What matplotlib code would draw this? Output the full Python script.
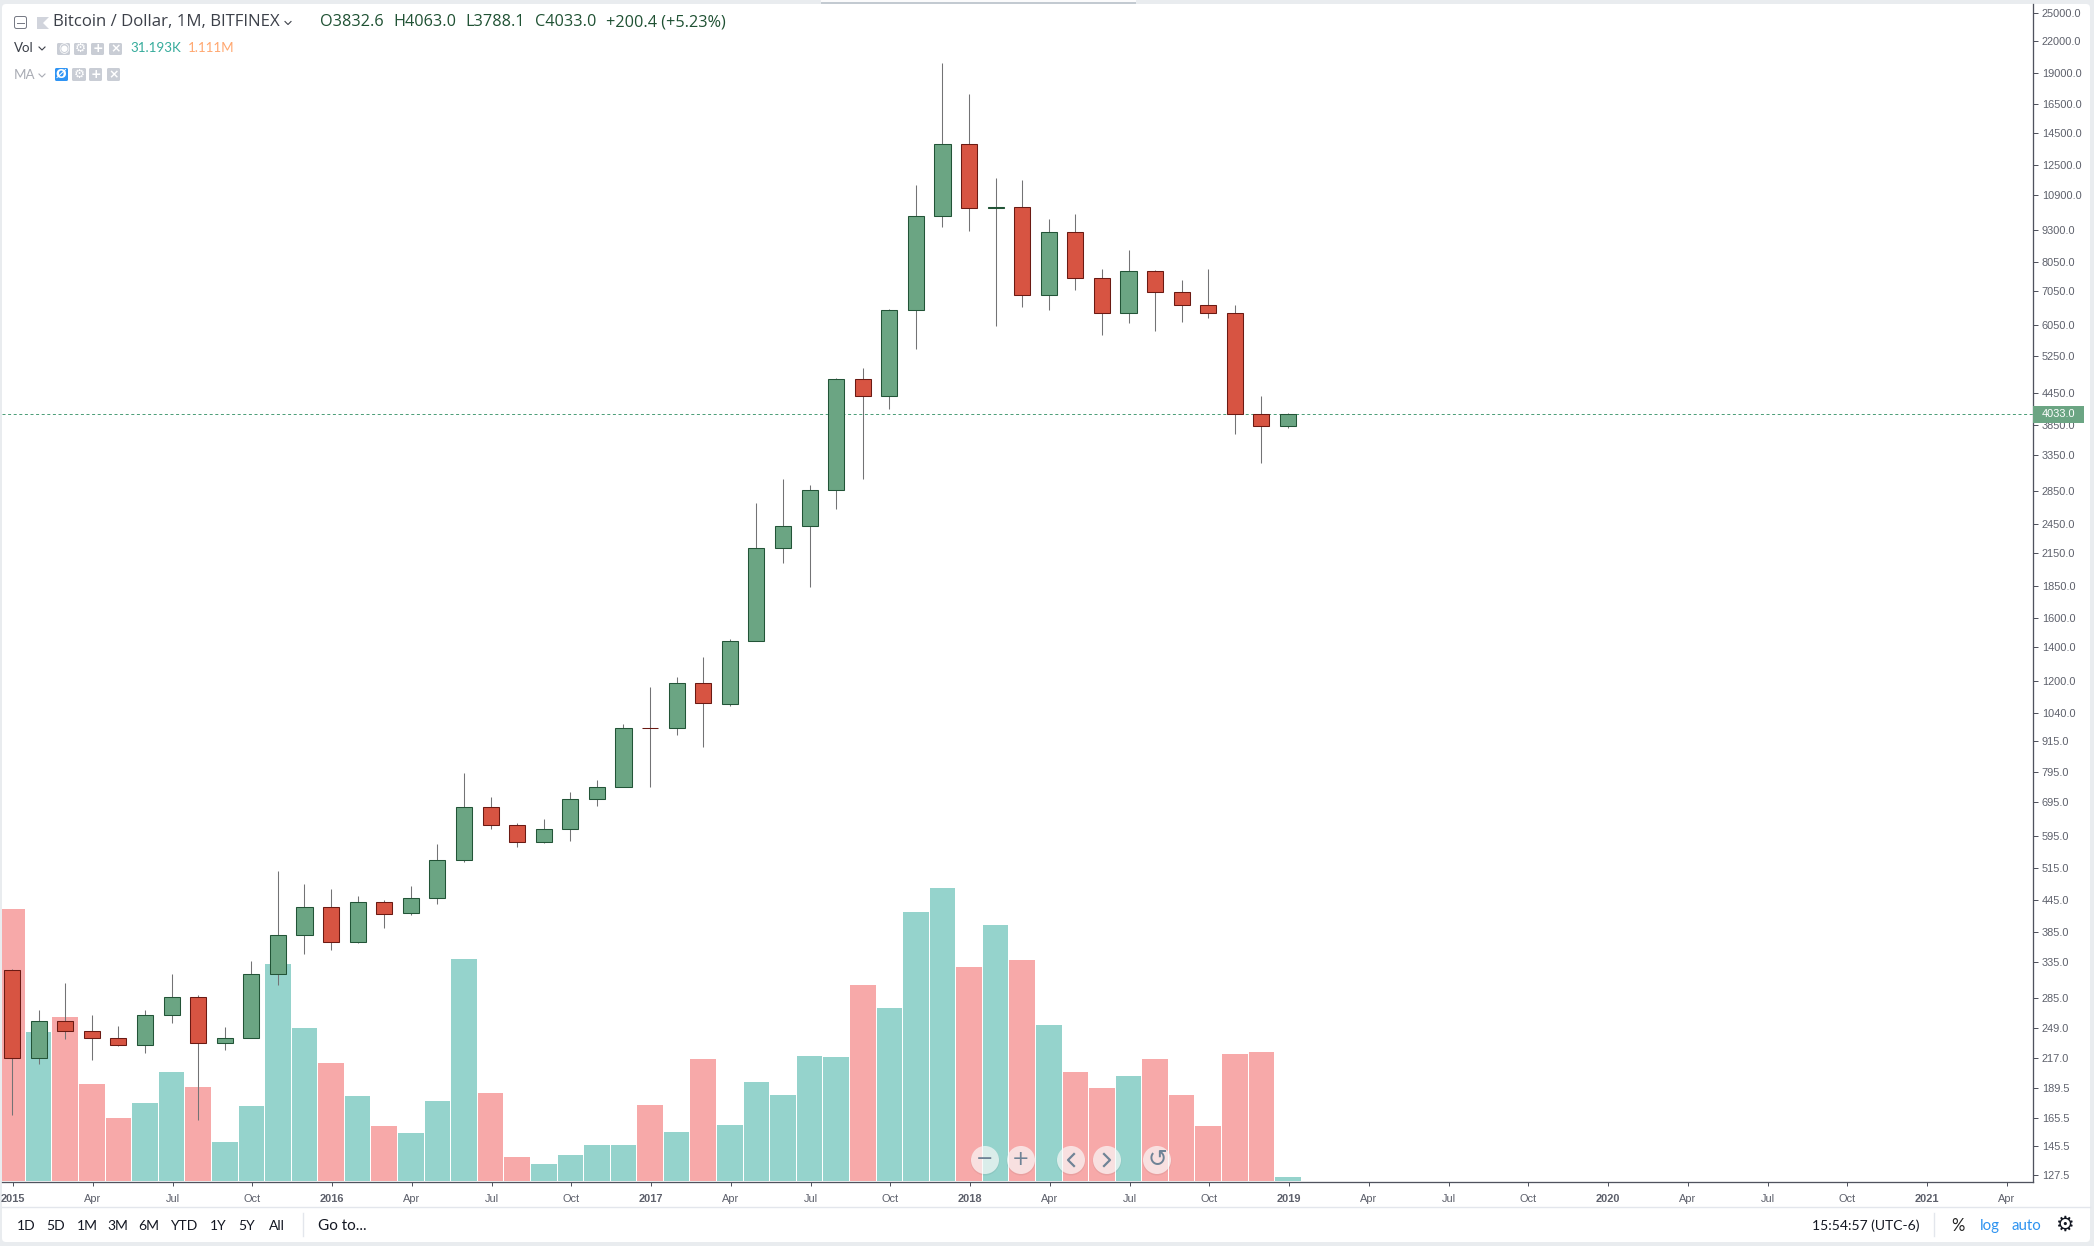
import matplotlib
matplotlib.use("Agg")
import matplotlib.pyplot as plt
from matplotlib.patches import Rectangle, Circle, FancyBboxPatch

opens = [323.5, 216.6, 256.6, 245, 237.3, 229.8, 263.7, 286.2, 232.2, 237.3, 317.7, 379.3,
         430.7, 367.4, 440.6, 419.1, 447.8, 532, 678, 624.5, 577.5, 612.6, 702, 742.4,
         970.6, 970.6, 1190.7, 1080.7, 1441, 2195, 2427, 2862, 4737, 4378, 6480, 9930,
         13770, 10297, 10343, 6924, 9233, 7492, 6392, 7736, 7031, 6628, 6392, 4033, 3832.6]
highs = [325.5, 270, 305.5, 264, 251, 270, 318.2, 289.3, 250.1, 337.5, 507.9, 478.8,
         468.1, 453.5, 445.3, 474.5, 574, 792.5, 710.5, 631.5, 643, 726.9, 767.7, 990,
         1170.9, 1225.4, 1341.8, 1456, 2701, 3012, 2931, 4765, 4987, 6500, 11448, 19920,
         17305, 11818, 11710, 9810, 10034, 7818, 8520, 7782, 7437, 7818, 6637, 4391, 4063]
lows = [167.7, 211.4, 236.9, 215.3, 228.8, 221.6, 253.9, 163.4, 225.4, 237.3, 302.7, 348.4,
        354.8, 365.2, 392.1, 414.7, 435.7, 527.3, 614.5, 566.2, 574.8, 580, 680, 742,
        742, 941.6, 891.6, 1074.2, 1441, 2057, 1839, 2620, 3003, 4139, 5420, 9430,
        9263, 6015, 6558, 6470, 7084, 5775, 6098, 5880, 6125, 6238, 3682, 3230, 3788.1]
closes = [216.6, 256.6, 244.9, 237, 229.8, 263.7, 286.2, 232.2, 237.3, 317.7, 379.3, 430.7,
          367.4, 440.6, 417.2, 448.7, 532.9, 678, 623.8, 577.5, 613.5, 703, 742.4, 970.6,
          969.6, 1190.7, 1087.4, 1441, 2198, 2430, 2862, 4737, 4378, 6479, 9930, 13770,
          10297, 10335, 6924, 9233, 7492, 6392, 7736, 7031, 6628, 6392, 4033, 3832.6, 4033]
volumes_k = [2122, 1162, 1279, 757, 491, 608, 850, 733, 304, 585, 1693, 1193,
             920, 663, 429, 374, 624, 1732, 686, 187, 133, 203, 281, 281,
             593, 382, 952, 437, 772, 671, 975, 967, 1529, 1349, 2098, 2285,
             1669, 1997, 1724, 1217, 850, 725, 819, 952, 671, 429, 991, 1006, 31]
price_ticks = [25000, 22000, 19000, 16500, 14500, 12500, 10900, 9300, 8050, 7050, 6050, 5250,
               4450, 3850, 3350, 2850, 2450, 2150, 1850, 1600, 1400, 1200, 1040, 915, 795,
               695, 595, 515, 445, 385, 335, 285, 249, 217, 189.5, 165.5, 145.5, 127.5]
month_ticks = [0, 3, 6, 9, 12, 15, 18, 21, 24, 27, 30, 33, 36, 39, 42, 45, 48, 51, 54, 57,
               60, 63, 66, 69, 72, 75]
month_labels = ["2015", "Apr", "Jul", "Oct", "2016", "Apr", "Jul", "Oct", "2017", "Apr", "Jul", "Oct",
                "2018", "Apr", "Jul", "Oct", "2019", "Apr", "Jul", "Oct", "2020", "Apr", "Jul", "Oct",
                "2021", "Apr"]
last_price = 4033.0

W, H = 2094, 1246
UP, DOWN = "#6ba583", "#d75442"
UP_EDGE, DOWN_EDGE = "#225437", "#6b1a13"
UP_VOL, DOWN_VOL = "#95d3cc", "#f7a9a9"
WICK = "#737375"
AXIS = "#50535e"
LABEL = "#5d606b"
px = 0.72
SANS = "Liberation Sans"
UI = "Lato"
HEAD = "Open Sans"

fig = plt.figure(figsize=(W / 100, H / 100), dpi=100, facecolor="#e9ecef")

# backdrop
bg = fig.add_axes([0, 0, 1, 1], zorder=-5)
bg.set_xlim(0, W); bg.set_ylim(H, 0); bg.axis("off")
bg.add_patch(FancyBboxPatch((5, 7), 2082, 1232, boxstyle="round,pad=3,rounding_size=4", fc="white", ec="none"))
bg.add_patch(Rectangle((821, 1.6), 315, 2, fc="#c3cad1", ec="none"))
bg.add_patch(Rectangle((821, 0), 315, 1.6, fc="#fbfbfc", ec="none"))
bg.plot([2, 2090], [1207, 1207], color="#e3e6ec", lw=1.4 * px)
bg.plot([303, 303], [1213, 1236], color="#e3e6ec", lw=1.4 * px)
bg.plot([1934, 1934], [1213, 1236], color="#e3e6ec", lw=1.4 * px)

# plot pane
L, R, T, B = 2, 2033, 4, 1182
rect = [L / W, 1 - B / H, (R - L) / W, (B - T) / H]
ax = fig.add_axes(rect, zorder=2)
ax.patch.set_visible(False)
vol = fig.add_axes(rect, zorder=1, sharex=ax)
vol.patch.set_visible(False)

idx = list(range(len(closes)))
up = [c >= o for o, c in zip(opens, closes)]

vol.bar(idx, volumes_k, width=0.962, color=[UP_VOL if u else DOWN_VOL for u in up], linewidth=0)
vol.set_ylim(-7.8, 9180)
vol.axis("off")

ax.set_yscale("log")
ax.set_xlim(-0.38, 76.026)
ax.set_ylim(123.5, 26000)

ax.plot([-0.38, 76.026], [last_price, last_price], color="#4f9f7a", lw=1.0 * px,
        linestyle=(0, (3, 2.6)), zorder=1)
ax.vlines(idx, lows, highs, color=WICK, lw=1.05 * px, zorder=2)
ax.bar(idx, [abs(c - o) for o, c in zip(opens, closes)], bottom=[min(o, c) for o, c in zip(opens, closes)],
       width=0.605, color=[UP if u else DOWN for u in up],
       edgecolor=[UP_EDGE if u else DOWN_EDGE for u in up], linewidth=1.05 * px, zorder=3)

for s in ("top", "left"):
    ax.spines[s].set_visible(False)
for s in ("bottom", "right"):
    ax.spines[s].set_color(AXIS)
    ax.spines[s].set_linewidth(1.3 * px)
ax.yaxis.tick_right()
ax.set_yticks(price_ticks)
ax.set_yticklabels([f"{v:.1f}" for v in price_ticks], fontsize=7.9, family=SANS, color=LABEL)
ax.minorticks_off()
ax.tick_params(axis="y", length=4.7 * px, width=1.0 * px, color=AXIS, pad=3.0)
ax.set_xticks([m + 0.04 for m in month_ticks])
ax.set_xticklabels(month_labels, fontsize=7.9, family=SANS, color=LABEL)
for lab in ax.get_xticklabels():
    if lab.get_text().isdigit():
        lab.set_fontweight("bold")
ax.tick_params(axis="x", length=4 * px, width=1.0 * px, color=AXIS, pad=5.5)

# overlay in pixel coordinates
ov = fig.add_axes([0, 0, 1, 1], zorder=10)
ov.patch.set_visible(False)
ov.set_xlim(0, W); ov.set_ylim(H, 0); ov.axis("off")

def t(x, y, s, size=10.0, color="#131722", ha="left", family=UI, **kw):
    ov.text(x, y, s, fontsize=size, color=color, ha=ha, va="center", family=family, **kw)

def square(x0, x1, y0, y1, fc="#c9cdd5"):
    ov.add_patch(FancyBboxPatch((x0 + 1, y0 + 1), x1 - x0 - 2, y1 - y0 - 2,
                                boxstyle="round,pad=1,rounding_size=1.5", fc=fc, ec="none"))

# last price label
y_last = ov.transData.inverted().transform(ax.transData.transform((0, last_price)))[1]
ov.add_patch(Rectangle((2033, y_last - 8.3), 51, 16.6, fc=UP, ec="none"))
t(2042, y_last, f"{last_price:.1f}", size=7.9, color="white", family=SANS)

# header
ov.add_patch(FancyBboxPatch((15, 17), 11, 11, boxstyle="round,pad=0.5,rounding_size=2", fc="white", ec="#787b86", lw=1.0 * px))
ov.plot([17, 24], [22.5, 22.5], color="#787b86", lw=1.0 * px)
ov.fill([37, 49, 43, 49, 37], [17, 17, 23, 29, 29], color="#d1d4dc", lw=0)
t(53, 22.5, "Bitcoin / Dollar, 1M, BITFINEX", color="#3c4049", size=12.1, family=HEAD)
ov.plot([285, 288, 291], [21.5, 24.5, 21.5], color="#3c4049", lw=1.1 * px)
DG = "#1f5133"
for x, s in zip([320, 393, 465, 535, 606],
                ["O3832.6", "H4063.0", "L3788.1", "C4033.0", "+200.4 (+5.23%)"]):
    t(x, 22.5, s, color=DG, size=11.7, family=HEAD)

t(14, 48, "Vol", color="#3c4049", size=9.6)
ov.plot([39, 42, 45], [47, 50, 47], color="#3c4049", lw=1.1 * px)
glyphs = ["◉", "⚙", "+", "×"]
for (x0, x1), g in zip([(57, 70), (74, 87), (91, 104), (109, 122)], glyphs):
    square(x0, x1, 43, 55)
    t((x0 + x1) / 2, 48.5, g, size=9, color="white", ha="center", family="DejaVu Sans", fontweight="bold")
t(130, 48, "31.193K", color="#35ab9b", size=9.6)
t(188, 48, "1.111M", color="#ffa76f", size=9.6)

t(14, 75, "MA", color="#a9acb4", size=9.6)
ov.plot([39, 42, 45], [74, 77, 74], color="#a9acb4", lw=1.1 * px)
for (x0, x1), g, fc in zip([(55, 68), (72, 86), (89, 102), (107, 120)], ["Ø", "⚙", "+", "×"],
                           ["#2f94f4", "#c9cdd5", "#c9cdd5", "#c9cdd5"]):
    square(x0, x1, 68, 81, fc=fc)
    t((x0 + x1) / 2, 74.5, g, size=9, color="white", ha="center", family="DejaVu Sans", fontweight="bold")

# bottom bar
for cx, s in zip([26, 56, 87, 118, 149, 184, 218, 247, 277],
                 ["1D", "5D", "1M", "3M", "6M", "YTD", "1Y", "5Y", "All"]):
    t(cx, 1226, s, ha="center", size=10)
t(318, 1226, "Go to...", size=11)
t(1812, 1226, "15:54:57 (UTC-6)", size=10.0)
t(1958, 1226, "%", ha="center", size=12, color="#222")
t(1980, 1226, "log", color="#2e93f0", size=10.8)
t(2012, 1226, "auto", color="#2e93f0", size=10.8)
t(2064, 1225, "⚙", ha="center", size=15, family="DejaVu Sans", color="#131722")

# zoom buttons
BTN = "#6f8396"
for cx in [985, 1021, 1071, 1107, 1157]:
    ov.add_patch(Circle((cx, 1161), 14.5, fc="#000000", alpha=0.05, ec="none"))
    ov.add_patch(Circle((cx, 1160), 14, fc="white", alpha=0.68, ec="none"))
t(985, 1159, "−", size=15, color=BTN, ha="center", family="DejaVu Sans")
t(1021, 1159, "+", size=15, color=BTN, ha="center", family="DejaVu Sans")
ov.plot([1074, 1068, 1074], [1154, 1160, 1166], color=BTN, lw=2.2 * px)
ov.plot([1104, 1110, 1104], [1154, 1160, 1166], color=BTN, lw=2.2 * px)
t(1157, 1159, "↺", size=17, color=BTN, ha="center", family="DejaVu Sans")

fig.savefig("out.png", dpi=100, facecolor=fig.get_facecolor())
